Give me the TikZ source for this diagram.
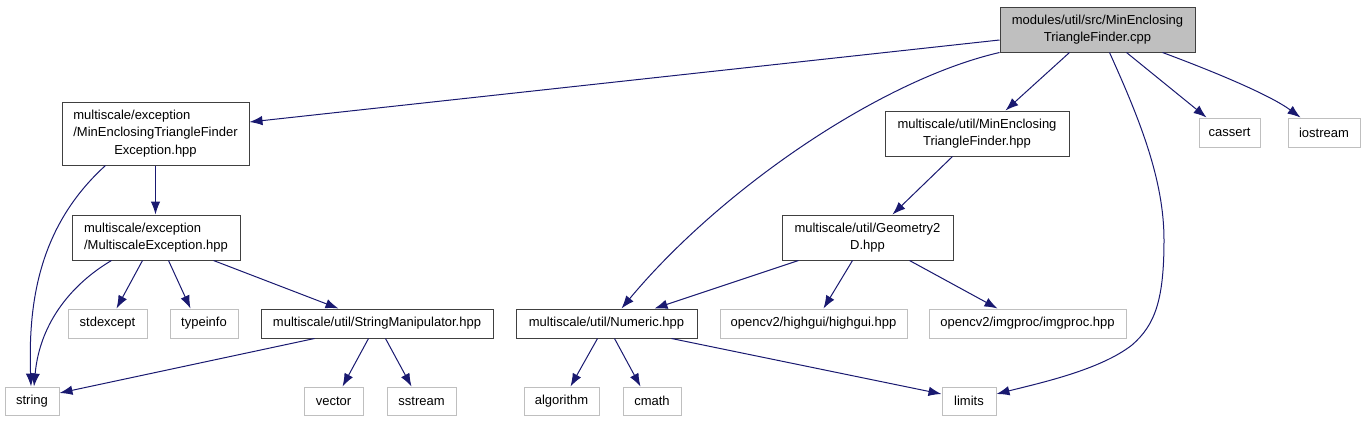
\documentclass[tikz,border=0pt]{standalone}
\usepackage{fontspec}
\setmainfont{Liberation Sans}
\usetikzlibrary{arrows.meta}
\definecolor{edgeblue}{HTML}{191970}
\definecolor{boxline}{HTML}{404040}
\definecolor{greyline}{HTML}{BFBFBF}
\definecolor{mainfill}{HTML}{BFBFBF}
\begin{document}
\begin{tikzpicture}[x=1pt,y=-1pt,
  every node/.style={font=\fontsize{13}{17.7}\selectfont, inner sep=0pt, align=center},
  blk/.style={draw=boxline, line width=1pt, fill=white},
  gry/.style={draw=greyline, line width=1pt, fill=white},
  dep/.style={draw=edgeblue, line width=1pt, -{Latex[length=13pt,width=9.5pt]}}]
\useasboundingbox (0,0) rectangle (1365,421);
% nodes
\node[blk, fill=mainfill, minimum width=195pt, minimum height=45pt] (main) at (1097.5,29.5) {modules/util/src/MinEnclosing\\TriangleFinder.cpp};
\node[blk, minimum width=187pt, minimum height=63pt] (exc) at (155.5,133.5) {\rlap{multiscale/exception}\phantom{/MinEnclosingTriangleFinder}\\/MinEnclosingTriangleFinder\\Exception.hpp};
\node[blk, minimum width=168pt, minimum height=45pt] (mse) at (156,237.5) {\rlap{multiscale/exception}\phantom{/MultiscaleException.hpp}\\/MultiscaleException.hpp};
\node[gry, minimum width=79pt, minimum height=29pt] (stdexcept) at (107.5,323.5) {stdexcept};
\node[gry, minimum width=68pt, minimum height=29pt] (typeinfo) at (204,323.5) {typeinfo};
\node[blk, minimum width=232pt, minimum height=29pt] (strman) at (377,323.5) {multiscale/util/StringManipulator.hpp};
\node[gry, minimum width=54pt, minimum height=28pt] (string) at (32,401) {string};
\node[gry, minimum width=59pt, minimum height=28pt] (vector) at (333.5,401) {vector};
\node[gry, minimum width=69pt, minimum height=28pt] (sstream) at (421.5,401) {sstream};
\node[blk, minimum width=184pt, minimum height=45pt] (metf) at (977,133.5) {multiscale/util/MinEnclosing\\TriangleFinder.hpp};
\node[blk, minimum width=171pt, minimum height=45pt] (geo) at (867.5,237.5) {multiscale/util/Geometry2\\D.hpp};
\node[blk, minimum width=181pt, minimum height=29pt] (numeric) at (606.5,323.5) {multiscale/util/Numeric.hpp};
\node[gry, minimum width=187pt, minimum height=29pt] (highgui) at (813.5,323.5) {opencv2/highgui/highgui.hpp};
\node[gry, minimum width=197pt, minimum height=29pt] (imgproc) at (1027.5,323.5) {opencv2/imgproc/imgproc.hpp};
\node[gry, minimum width=75pt, minimum height=28pt] (algorithm) at (561.5,401) {algorithm};
\node[gry, minimum width=58pt, minimum height=28pt] (cmath) at (652,401) {cmath};
\node[gry, minimum width=54pt, minimum height=28pt] (limits) at (969,401) {limits};
\node[gry, minimum width=61pt, minimum height=29pt] (cassert) at (1229.5,132.5) {cassert};
\node[gry, minimum width=72pt, minimum height=29pt] (iostream) at (1324,132.5) {iostream};
% edges
\draw[dep] ([yshift=-10.5pt]main.west) -- ([yshift=11.5pt]exc.east);
\draw[dep] (main.south west) .. controls (880,80) and (720,190) .. ([xshift=106pt]numeric.north west);
\draw[dep] ([xshift=70pt]main.south west) -- ([xshift=121pt]metf.north west);
\draw[dep] ([xshift=110pt]main.south west) .. controls (1140,120) and (1164,180) .. (1164,240)
  .. controls (1164,300) and (1155,325) .. (1132,345)
  .. controls (1100,370) and (1040,383) .. ([yshift=7pt]limits.east);
\draw[dep] ([xshift=127pt]main.south west) -- ([xshift=8pt]cassert.north west);
\draw[dep] ([xshift=163pt]main.south west) .. controls (1215,72) and (1270,95) .. ([xshift=13pt]iostream.north west);
\draw[dep] (exc.south) -- (exc.south |- mse.north);
\draw[dep] ([xshift=44pt]exc.south west) .. controls (40,225) and (28,300) .. ([xshift=-1pt]string.north);
\draw[dep] ([xshift=40pt]mse.south west) .. controls (75,282) and (40,320) .. ([xshift=2pt]string.north);
\draw[dep] ([xshift=71pt]mse.south west) -- ([xshift=49pt]stdexcept.north west);
\draw[dep] ([xshift=97pt]mse.south west) -- ([xshift=21pt]typeinfo.north west);
\draw[dep] ([xshift=142pt]mse.south west) -- ([xshift=78pt]strman.north west);
\draw[dep] ([xshift=54pt]strman.south west) -- ([yshift=8pt]string.east);
\draw[dep] ([xshift=108pt]strman.south west) -- ([xshift=39pt]vector.north west);
\draw[dep] ([xshift=125pt]strman.south west) -- ([xshift=25pt]sstream.north west);
\draw[dep] ([xshift=68pt]metf.south west) -- ([xshift=111pt]geo.north west);
\draw[dep] ([xshift=17pt]geo.south west) -- ([xshift=139pt]numeric.north west);
\draw[dep] ([xshift=71pt]geo.south west) -- ([xshift=104pt]highgui.north west);
\draw[dep] ([xshift=128pt]geo.south west) -- ([xshift=69pt]imgproc.north west);
\draw[dep] ([xshift=82pt]numeric.south west) -- ([xshift=47pt]algorithm.north west);
\draw[dep] ([xshift=99pt]numeric.south west) -- ([xshift=18pt]cmath.north west);
\draw[dep] ([xshift=156pt]numeric.south west) -- ([yshift=7pt]limits.west);
\end{tikzpicture}
\end{document}
